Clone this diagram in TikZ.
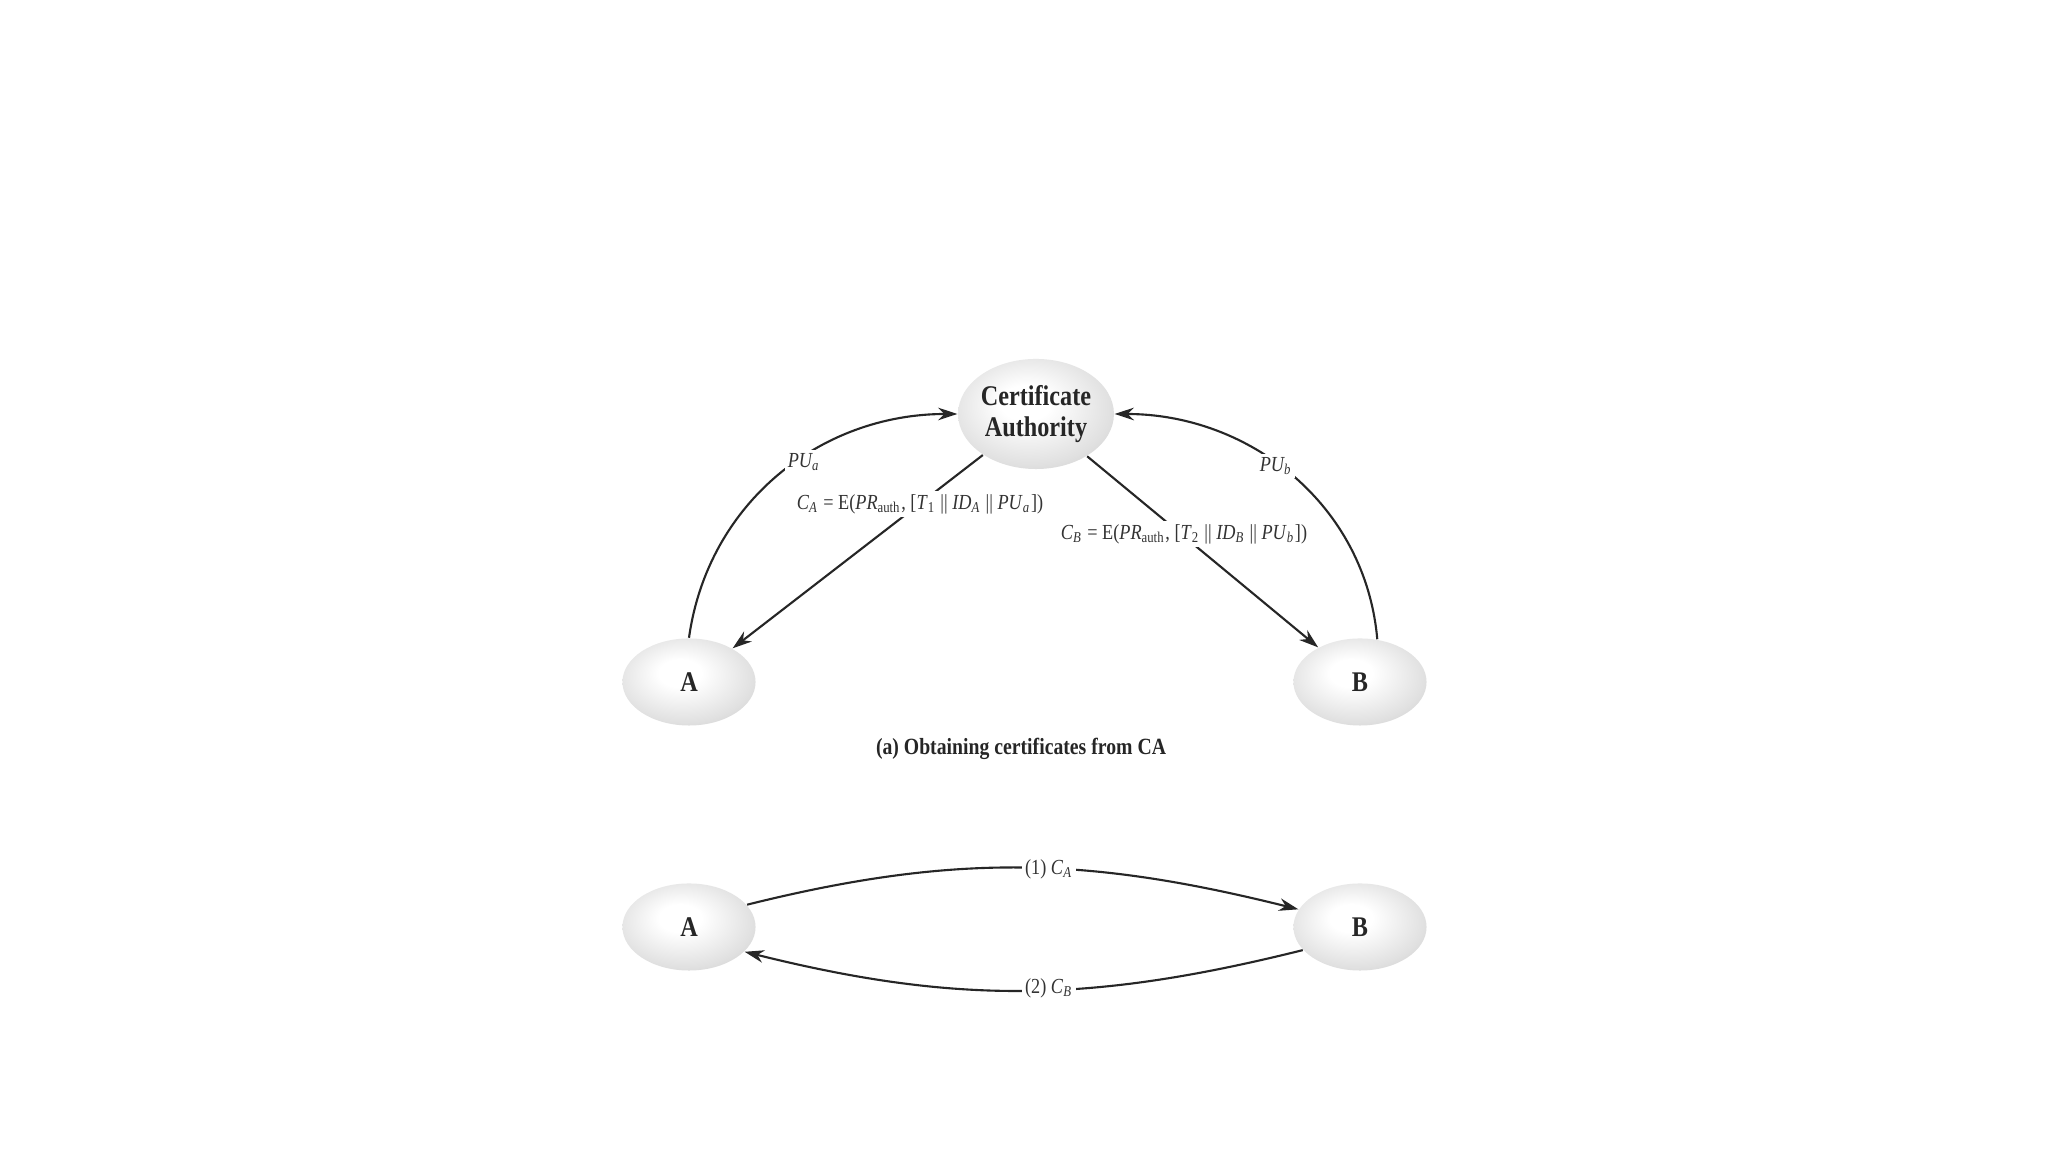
\documentclass[tikz,border=0pt]{standalone}
\usepackage{fontspec}
\setmainfont{Liberation Serif}[FakeStretch=0.85]
\usetikzlibrary{shapes.geometric,arrows.meta}
\pgfdeclareradialshading{ballgrey}{\pgfpoint{-4bp}{6bp}}{color(0bp)=(white); color(8bp)=(white); color(26bp)=(black!12); color(40bp)=(black!24); color(50bp)=(black!34)}
\newcommand{\sbs}[1]{\textsubscript{#1}}
\tikzset{
  ent/.style={ellipse, shading=ballgrey, draw=none, inner sep=0pt, align=center,
    font=\bfseries\fontsize{8.1}{8.8}\selectfont, text=black!85},
  bigent/.style={minimum width=1.55cm, minimum height=1.1cm},
  smallent/.style={minimum width=1.33cm, minimum height=0.87cm},
  arr/.style={-{Stealth[length=5.5pt,width=3.6pt]}, line width=0.6pt, draw=black!85},
  lbl/.style={fill=white, inner sep=0.8pt, font=\fontsize{6.1}{7}\selectfont, text=black!80},
  captext/.style={font=\bfseries\fontsize{6.6}{7.5}\selectfont, text=black!85},
}
\begin{document}
\begin{tikzpicture}[x=0.01cm,y=0.01cm]
\useasboundingbox[fill=white] (0,0) rectangle (2048,1152);
% nodes
\node[ent,bigent] (CA) at (1036,738) {Certificate\\Authority};
\node[ent,smallent] (A1) at (689,470) {A};
\node[ent,smallent] (B1) at (1360,470) {B};
\node[ent,smallent] (A2) at (689,225) {A};
\node[ent,smallent] (B2) at (1360,225) {B};
\node[captext] (capa) at (1021,403) {(a) Obtaining certificates from CA};
% top connectors
\draw[arr] (A1.north) to[out=82,in=180] (CA.west);
\draw[arr] (B1.68) to[out=95,in=0] (CA.east);
\draw[arr] (CA) -- (A1);
\draw[arr] (CA) -- (B1);
\node[lbl] (pua) at (804,690) {\itshape PU\sbs{a}};
\node[lbl] (pub) at (1276,686) {\itshape PU\sbs{b}};
\node[lbl] (ca) at (920,648) {\textit{C}\sbs{\textit{A}} = E(\textit{PR}\sbs{auth}, [\textit{T}\sbs{1} || \textit{ID}\sbs{\textit{A}} || \textit{PU}\sbs{\textit{a}}])};
\node[lbl] (cb) at (1184,618) {\textit{C}\sbs{\textit{B}} = E(\textit{PR}\sbs{auth}, [\textit{T}\sbs{2} || \textit{ID}\sbs{\textit{B}} || \textit{PU}\sbs{\textit{b}}])};
% bottom connectors
\draw[arr] (A2.21) to[out=14,in=166] (B2.164);
\draw[arr] (B2.202) to[out=194,in=346] (A2.336);
\node[lbl] (m1) at (1049,283) {(1) \textit{C}\sbs{\textit{A}}};
\node[lbl] (m2) at (1049,164) {(2) \textit{C}\sbs{\textit{B}}};
\end{tikzpicture}
\end{document}
